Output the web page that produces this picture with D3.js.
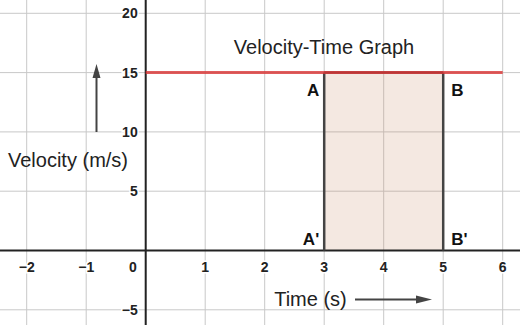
<!DOCTYPE html>
<html><head><meta charset="utf-8">
<script src="https://cdn.jsdelivr.net/npm/d3@7"></script>
<style>html,body{margin:0;padding:0;background:#fff;}svg{display:block;}</style>
</head><body>
<script>
const xTicks = [-2, -1, 1, 2, 3, 4, 5, 6];
const yTicks = [-5, 5, 10, 15, 20];
const xGrid = [-2, -1, 0, 1, 2, 3, 4, 5, 6];
const yGrid = [-5, 0, 5, 10, 15, 20];
const velocityLine = [[0, 15], [6, 15]];
const areaInterval = [3, 5];
const areaVelocity = 15;
const pointLabels = [
  {name: "A", x: 3, y: 15, side: "left", pos: "top"},
  {name: "B", x: 5, y: 15, side: "right", pos: "top"},
  {name: "A'", x: 3, y: 0, side: "left", pos: "bottom"},
  {name: "B'", x: 5, y: 0, side: "right", pos: "bottom"}
];
const title = "Velocity-Time Graph";
const xLabel = "Time (s)";
const yLabel = "Velocity (m/s)";

const W = 520, H = 325;
const x = d3.scaleLinear().domain([0, 1]).range([145.7, 205.2]);
const y = d3.scaleLinear().domain([0, 5]).range([250.5, 191.2]);

const svg = d3.select("body").append("svg").attr("width", W).attr("height", H);
const font = "'Liberation Sans', Arial, sans-serif";

// grid
svg.append("g").selectAll("line").data(xGrid).join("line")
  .attr("x1", d => x(d)).attr("x2", d => x(d)).attr("y1", 0).attr("y2", H)
  .attr("stroke", "#c8c8c8").attr("stroke-width", 1);
svg.append("g").selectAll("line").data(yGrid).join("line")
  .attr("y1", d => y(d)).attr("y2", d => y(d)).attr("x1", 0).attr("x2", W)
  .attr("stroke", "#c8c8c8").attr("stroke-width", 1);

// area rect
svg.append("rect")
  .attr("x", x(areaInterval[0])).attr("y", y(areaVelocity))
  .attr("width", x(areaInterval[1]) - x(areaInterval[0]))
  .attr("height", y(0) - y(areaVelocity))
  .attr("fill", "#c98a6b").attr("fill-opacity", 0.2);

// axes
svg.append("line").attr("x1", 0).attr("x2", W).attr("y1", y(0)).attr("y2", y(0))
  .attr("stroke", "#222").attr("stroke-width", 2);
svg.append("line").attr("x1", x(0)).attr("x2", x(0)).attr("y1", 0).attr("y2", H)
  .attr("stroke", "#222").attr("stroke-width", 2);

// rect edges
svg.append("g").selectAll("line").data(areaInterval).join("line")
  .attr("x1", d => x(d)).attr("x2", d => x(d))
  .attr("y1", y(areaVelocity)).attr("y2", y(0))
  .attr("stroke", "#444").attr("stroke-width", 2.5);
svg.append("line")
  .attr("x1", x(areaInterval[0])).attr("x2", x(areaInterval[1]))
  .attr("y1", y(areaVelocity)).attr("y2", y(areaVelocity))
  .attr("stroke", "#444").attr("stroke-width", 2.5);

// velocity line
svg.append("path").datum(velocityLine)
  .attr("d", d3.line().x(d => x(d[0])).y(d => y(d[1])))
  .attr("stroke", "#d93434").attr("stroke-opacity", 0.8).attr("stroke-width", 3).attr("fill", "none");

// tick labels with halo
function label(g, txt, px, py, anchor) {
  g.append("text").attr("x", px).attr("y", py).attr("text-anchor", anchor)
    .attr("dominant-baseline", "central")
    .attr("font-family", font).attr("font-size", 14).attr("font-weight", "bold")
    .attr("fill", "#222").attr("stroke", "#fff").attr("stroke-width", 3)
    .attr("paint-order", "stroke").text(txt);
}
const tg = svg.append("g");
xTicks.forEach(t => label(tg, (t < 0 ? "\u2212" + Math.abs(t) : String(t)), x(t), y(0) + 16, "middle"));
yTicks.forEach(t => label(tg, (t < 0 ? "\u2212" + Math.abs(t) : String(t)), x(0) - 8, y(t), "end"));
label(tg, "0", x(0) - 9, y(0) + 16, "end");

// point labels
svg.append("g").selectAll("text").data(pointLabels).join("text")
  .attr("x", d => x(d.x) + (d.side === "left" ? -5 : 8))
  .attr("y", d => d.pos === "top" ? y(d.y) + 23 : y(d.y) - 6)
  .attr("text-anchor", d => d.side === "left" ? "end" : "start")
  .attr("font-family", font).attr("font-size", 17).attr("font-weight", "bold")
  .attr("fill", "#111").text(d => d.name);

// title
svg.append("text").attr("x", 324).attr("y", 54).attr("text-anchor", "middle")
  .attr("font-family", font).attr("font-size", 20).attr("fill", "#222").text(title);

// y label and arrow
svg.append("text").attr("x", 68).attr("y", 167).attr("text-anchor", "middle")
  .attr("font-family", font).attr("font-size", 20).attr("fill", "#222").text(yLabel);
svg.append("line").attr("x1", 96.5).attr("x2", 96.5).attr("y1", 132).attr("y2", 74)
  .attr("stroke", "#444").attr("stroke-width", 2);
svg.append("path").attr("d", "M96.5,64 L92.5,78 L100.5,78 Z").attr("fill", "#444");

// x label and arrow
svg.append("text").attr("x", 310.5).attr("y", 306).attr("text-anchor", "middle")
  .attr("font-family", font).attr("font-size", 20).attr("fill", "#222").text(xLabel);
svg.append("line").attr("x1", 355).attr("x2", 420).attr("y1", 299.5).attr("y2", 299.5)
  .attr("stroke", "#444").attr("stroke-width", 2);
svg.append("path").attr("d", "M432,299.5 L416,295.5 L416,303.5 Z").attr("fill", "#444");
</script>
</body></html>
